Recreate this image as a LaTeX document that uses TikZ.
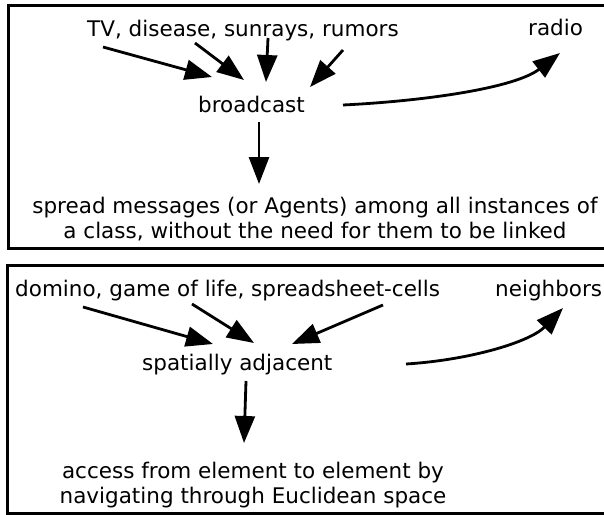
\documentclass[tikz,border=0pt]{standalone}
\usepackage{fontspec}
\setmainfont{DejaVu Sans}
\usetikzlibrary{arrows.meta}
\tikzset{
  frame/.style={draw=black, line width=3pt},
  label/.style={inner sep=0pt, font=\fontsize{21.5}{25}\selectfont},
  arr/.style={draw=black, line width=2.8pt,
    -{Triangle[length=27pt,width=20pt]}},
}
\begin{document}
\begin{tikzpicture}[x=1pt,y=-1pt]
\useasboundingbox (0,0) rectangle (604,514);

% ---------- upper panel: broadcast ----------
\draw[frame] (8.5,5.5) rectangle (612,248.5);

\node[label, anchor=base west] (tv)    at (87,36)  {TV, disease, sunrays, rumors};
\node[label, anchor=base west] (radio) at (528,35) {radio};
\node[label, anchor=base west] (bc)    at (198,112) {broadcast};
% two-line node: the base anchor sits on the last line
\node[label, anchor=base, align=center] (spread) at (315,238)
  {spread messages (or Agents) among all instances of\\
   a class, without the need for them to be linked};

\coordinate (t1s) at (103,47);  \coordinate (t1e) at (212,77);
\coordinate (t2s) at (195,43);  \coordinate (t2e) at (244,80);
\coordinate (t3s) at (268,38);  \coordinate (t3e) at (266,82);
\coordinate (t4s) at (343,50);  \coordinate (t4e) at (310,87);
\coordinate (tcs) at (343,105); \coordinate (tce) at (560,53);
\coordinate (tds) at (259,122); \coordinate (tde) at (259,184);

\draw[arr] (t1s) -- (t1e);
\draw[arr] (t2s) -- (t2e);
\draw[arr] (t3s) -- (t3e);
\draw[arr] (t4s) -- (t4e);
\draw[arr] (tcs) .. controls (425,101) and (515,88) .. (tce);
\draw[arr] (tds) -- (tde);

% ---------- lower panel: spatially adjacent ----------
\draw[frame] (7.5,265.5) rectangle (612,513.5);

\node[label, anchor=base west] (dom)  at (15,296)  {domino, game of life, spreadsheet-cells};
\node[label, anchor=base west] (nb)   at (495,296) {neighbors};
\node[label, anchor=base west] (sp)   at (142,370) {spatially adjacent};
\node[label, anchor=base, align=center] (acc) at (253,503)
  {access from element to element by\\
   navigating through Euclidean space};

\coordinate (b1s) at (83,307);  \coordinate (b1e) at (213,344);
\coordinate (b2s) at (192,304); \coordinate (b2e) at (254,343);
\coordinate (b3s) at (383,305); \coordinate (b3e) at (292,344);
\coordinate (bcs) at (406,364); \coordinate (bce) at (563,308);
\coordinate (bds) at (246,381); \coordinate (bde) at (244,443);

\draw[arr] (b1s) -- (b1e);
\draw[arr] (b2s) -- (b2e);
\draw[arr] (b3s) -- (b3e);
\draw[arr] (bcs) .. controls (470,360) and (530,342) .. (bce);
\draw[arr] (bds) -- (bde);
\end{tikzpicture}
\end{document}
